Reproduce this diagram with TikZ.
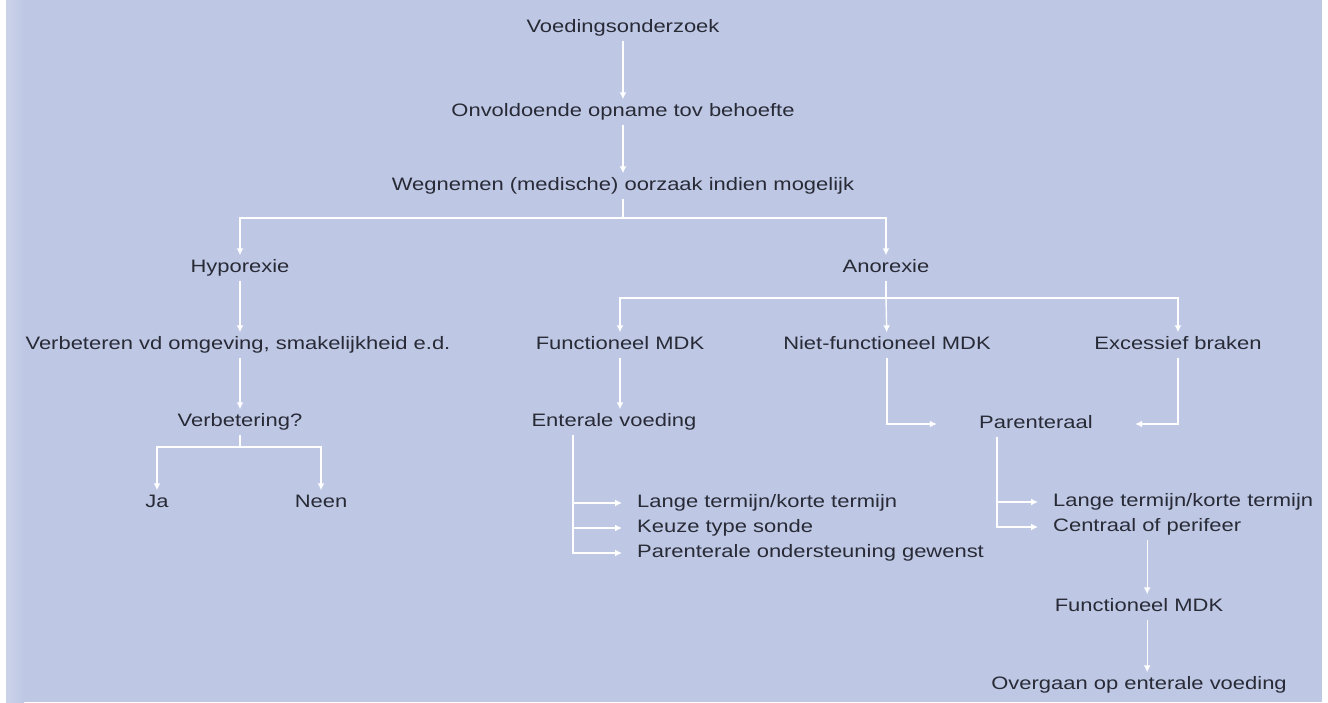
\documentclass[tikz,border=0pt]{standalone}
\usepackage{fontspec}
\setmainfont{Liberation Sans}[FakeStretch=1.22]
\usepackage{tikz}
\usetikzlibrary{arrows.meta, positioning}
\usepackage{xcolor}
\definecolor{bgblue}{RGB}{190,200,228}
\definecolor{inkgray}{RGB}{40,42,54}

\begin{document}
\begin{tikzpicture}[
    x=1pt, y=-1pt,
    lbl/.style={inner sep=4pt, text height=13pt, text depth=4pt, font=\fontsize{18}{21}\selectfont, text=inkgray},
    item/.style={lbl, anchor=west, inner xsep=0pt},
    arrow/.style={-{Latex[length=7pt,width=7pt]}, white, line width=1.4pt},
    wire/.style={white, line width=1.4pt},
    toitem/.style={arrow, shorten >=15pt}
]
    % achtergrond
    \useasboundingbox (0,0) rectangle (1328,702);
    \fill[white] (0,0) rectangle (1328,702);
    \fill[bgblue] (6,0) rectangle (1322,702);
    \shade[left color=bgblue!80!white, right color=bgblue] (6,0) rectangle (24,702);

    % hoofdlijn
    \node[lbl] (voed) at (623,28) {Voedingsonderzoek};
    \node[lbl] (onv) at (623,112) {Onvoldoende opname tov behoefte};
    \node[lbl] (weg) at (623,186) {Wegnemen (medische) oorzaak indien mogelijk};

    % hyporexie
    \node[lbl] (hyp) at (240,268) {Hyporexie};
    \node[lbl] (verb) at (238,345) {Verbeteren vd omgeving, smakelijkheid e.d.};
    \node[lbl] (verbq) at (240,422) {Verbetering?};
    \node[lbl] (ja) at (157,503) {Ja};
    \node[lbl] (neen) at (321,503) {Neen};

    % anorexie
    \node[lbl] (ano) at (886,268) {Anorexie};
    \node[lbl] (func) at (620,345) {Functioneel MDK};
    \node[lbl] (nfunc) at (887,345) {Niet-functioneel MDK};
    \node[lbl] (exc) at (1178,345) {Excessief braken};

    % enterale voeding
    \node[lbl] (ent) at (614,422) {Enterale voeding};
    \node[item] (elt) at (637,503) {Lange termijn/korte termijn};
    \node[item] (ekz) at (637,528) {Keuze type sonde};
    \node[item] (epo) at (637,553) {Parenterale ondersteuning gewenst};

    % parenteraal
    \node[lbl, minimum width=198pt] (par) at (1036,424) {Parenteraal};
    \node[item] (plt) at (1053,502) {Lange termijn/korte termijn};
    \node[item] (cen) at (1053,527) {Centraal of perifeer};
    \node[lbl] (fm2) at (1139,607) {Functioneel MDK};
    \node[lbl] (over) at (1139,685) {Overgaan op enterale voeding};

    % splitsingen
    \coordinate (split1) at (623,218);
    \coordinate (split2) at (886,298);
    \coordinate (split3) at (240,447);

    % pijlen
    \draw[arrow] (voed) -- (onv);
    \draw[arrow] (onv) -- (weg);
    \draw[wire] (weg) -- (split1);
    \draw[arrow] (split1) -| (hyp);
    \draw[arrow] (split1) -| (ano);

    \draw[arrow] (hyp) -- (hyp |- verb.north);
    \draw[arrow] (hyp |- verb.south) -- (verbq);
    \draw[wire] (verbq) -- (split3);
    \draw[arrow] (split3) -| (ja);
    \draw[arrow] (split3) -| (neen);

    \draw[wire] (ano) -- (split2);
    \draw[arrow] (split2) -| (func);
    \draw[arrow] (split2) -- (nfunc);
    \draw[arrow] (split2) -| (exc);

    \draw[arrow] (func) -- (func |- ent.north);
    \foreach \t in {elt, ekz, epo}
        \draw[toitem] ([xshift=-41pt]ent.south) |- (\t.west);

    \draw[arrow] (nfunc) |- (par);
    \draw[arrow] (exc) |- (par);
    \foreach \t in {plt, cen}
        \draw[toitem] ([xshift=-39pt]par.south) |- (\t.west);

    \draw[arrow] (cen.south) -- (cen.south |- fm2.north);
    \draw[arrow] (fm2.south -| cen.south) -- (over.north -| cen.south);
\end{tikzpicture}
\end{document}
